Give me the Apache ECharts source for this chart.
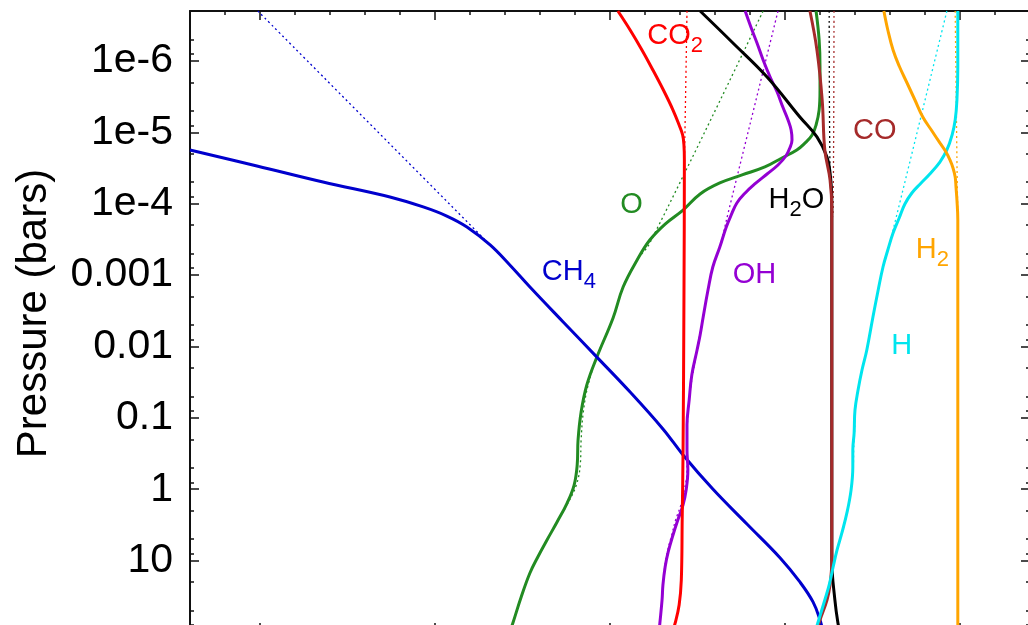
<!DOCTYPE html>
<html><head><meta charset="utf-8">
<script src="https://cdn.jsdelivr.net/npm/echarts@6/dist/echarts.min.js"></script>
<style>html,body{margin:0;padding:0;background:#fff}#c{width:1028px;height:625px}</style>
</head><body><div id="c"></div>
<script>
// ---------- data (x = log10 mole fraction, p = pressure in bars) ----------
const yTickValues = [1e-6, 1e-5, 1e-4, 1e-3, 1e-2, 1e-1, 1, 10];
const yTickLabels = ['1e-6', '1e-5', '1e-4', '0.001', '0.01', '0.1', '1', '10'];
const yMinorTicks = [5e-7, 8e-7, 2e-6, 5e-6, 8e-6, 2e-5, 5e-5, 8e-5, 2e-4, 5e-4, 8e-4, 2e-3, 5e-3, 8e-3,
  0.02, 0.05, 0.08, 0.2, 0.5, 0.8, 2, 5, 8, 20, 50, 80];
const xMajorTicks = [-16, -12, -8, -4, 0];
const xMinorTicks = [-16.8, -15.2, -14.4, -13.6, -12.8, -11.2, -10.4, -9.6, -8.8, -7.2, -6.4, -5.6, -4.8,
  -3.2, -2.4, -1.6, -0.8, 0.8];
const pressureRange = [2e-7, 100];
const xRange = [-17.6, 1.6];

const CH4 = [[-17.6,1.77e-5],[-16.07,2.96e-5],[-14.56,4.97e-5],[-13.03,8.05e-5],[-12.27,1.11e-4],[-11.73,1.49e-4],
  [-11.27,2.12e-4],[-10.74,3.79e-4],[-10.29,7.23e-4],[-9.83,1.47e-3],[-9.07,4.54e-3],[-8.3,1.41e-2],[-7.54,4.35e-2],
  [-6.79,0.143],[-6.33,0.331],[-5.65,0.993],[-4.87,3.07],[-4.11,9.18],[-3.66,19.9],[-3.36,37.9],[-3.2,67.9],[-3.13,100]];
const CH4_eq = [[-16.05,2e-7],[-10.74,3.79e-4],[-10.29,7.23e-4],[-9.83,1.47e-3],[-9.07,4.54e-3],[-8.3,1.41e-2],[-7.54,4.35e-2],
  [-6.79,0.143],[-6.33,0.331],[-5.65,0.993],[-4.87,3.07],[-4.11,9.18],[-3.66,19.9],[-3.36,37.9],[-3.2,67.9],[-3.13,100]];

const CO2 = [[-7.82,2e-7],[-7.54,3.69e-7],[-7.27,7.03e-7],[-7.02,1.34e-6],[-6.78,2.56e-6],[-6.56,4.88e-6],[-6.42,7.91e-6],
  [-6.34,1.09e-5],[-6.31,1.51e-5],[-6.30,2.44e-5],[-6.31,2.2e-3],[-6.33,0.28],[-6.35,2.7],[-6.37,18.7],
  [-6.42,41.9],[-6.51,74.8],[-6.58,100]];
const CO2_eq = [[-6.24,2e-7],[-6.29,1.3e-5],[-6.30,2.44e-5],[-6.31,2.2e-3],[-6.33,0.28],[-6.35,2.7],[-6.37,18.7],
  [-6.42,41.9],[-6.51,74.8],[-6.58,100]];

const H2O = [[-5.94,2e-7],[-5.19,5.61e-7],[-4.41,1.68e-6],[-3.66,6.11e-6],[-3.27,1.16e-5],[-3.04,2.22e-5],[-2.97,3.72e-5],
  [-2.93,8.87e-5],[-2.93,1e-2],[-2.93,1],[-2.93,9.8],[-2.86,35.6],[-2.79,74.8],[-2.74,100]];
const H2O_eq = [[-2.99,2e-7],[-2.97,4e-5],[-2.93,8.87e-5],[-2.93,1e-2],[-2.93,1],[-2.93,9.8],[-2.86,35.6],[-2.79,74.8],[-2.74,100]];

const CO = [[-3.43,2e-7],[-3.27,7.03e-7],[-3.15,3.53e-6],[-3.09,1.77e-5],[-2.97,4.66e-5],[-2.93,1.23e-4],[-2.93,1e-2],
  [-2.93,1],[-2.93,9.8],[-2.97,21.9],[-3.04,35.6],[-3.2,67.9],[-3.29,100]];
const CO_eq = [[-2.88,2e-7],[-2.9,1.2e-4],[-2.93,2e-4],[-2.93,1e-2],[-2.93,1],[-2.93,9.8],[-2.97,21.9],[-3.04,35.6],
  [-3.2,67.9],[-3.29,100]];

const OH = [[-4.91,2e-7],[-4.78,3.35e-7],[-4.64,5.61e-7],[-4.50,9.7e-7],[-4.34,1.68e-6],[-4.18,2.73e-6],[-4.05,4.43e-6],
  [-3.93,6.73e-6],[-3.86,9.29e-6],[-3.84,1.28e-5],[-3.89,1.66e-5],[-3.98,2.15e-5],[-4.16,2.87e-5],[-4.41,3.84e-5],
  [-4.69,5.3e-5],[-4.91,7.08e-5],[-5.10,9.77e-5],[-5.23,1.44e-4],[-5.35,2.19e-4],[-5.49,4.05e-4],[-5.65,7.71e-4],
  [-5.76,1.62e-3],[-5.87,3.86e-3],[-5.94,6.9e-3],[-6.01,1.12e-2],[-6.13,2.51e-2],[-6.19,5.62e-2],[-6.24,0.126],
  [-6.24,0.282],[-6.22,0.537],[-6.26,1.03],[-6.33,1.66],[-6.45,2.7],[-6.56,4.38],[-6.67,7.57],[-6.74,12.3],[-6.79,21.9],
  [-6.81,35.6],[-6.86,74.8],[-6.88,100]];
const OH_eq = [[-4.16,2e-7],[-5.30,1.35e-4],[-5.49,4.05e-4],[-5.65,7.71e-4],[-5.76,1.62e-3],[-5.87,3.86e-3],[-6.01,1.12e-2],
  [-6.19,5.62e-2],[-6.24,0.282],[-6.24,0.537],[-6.30,1.03],[-6.38,1.66],[-6.50,2.7],[-6.59,4.38],[-6.69,7.57],[-6.75,12.3],
  [-6.81,35.6],[-6.86,74.8],[-6.88,100]];

const O = [[-3.29,2e-7],[-3.22,5.09e-7],[-3.20,1.22e-6],[-3.20,2.56e-6],[-3.22,4.88e-6],[-3.29,7.91e-6],[-3.38,1.09e-5],
  [-3.54,1.41e-5],[-3.73,1.77e-5],[-4.07,2.29e-5],[-4.46,3.06e-5],[-4.98,3.96e-5],[-5.49,5.13e-5],[-5.94,7.31e-5],
  [-6.33,1.23e-4],[-6.74,1.93e-4],[-7.09,3.23e-4],[-7.38,6.15e-4],[-7.70,1.47e-3],[-7.93,3.99e-3],
  [-8.30,1.41e-2],[-8.53,3.47e-2],[-8.66,8.28e-2],[-8.73,0.204],[-8.75,0.457],[-8.82,0.873],[-8.98,1.56],
  [-9.21,2.88],[-9.44,5.14],[-9.65,8.89],[-9.83,14.9],[-10.03,32.3],[-10.22,74.8],[-10.29,100]];
const O_eq = [[-4.50,2e-7],[-7.09,3.56e-4],[-7.38,6.15e-4],[-7.70,1.47e-3],[-7.93,3.99e-3],[-8.30,1.41e-2],
  [-8.50,3.47e-2],[-8.61,8.28e-2],[-8.66,0.204],[-8.68,0.457],[-8.77,0.873],[-8.96,1.56],
  [-9.21,2.88],[-9.44,5.14],[-9.65,8.89],[-9.83,14.9],[-10.03,32.3],[-10.22,74.8],[-10.29,100]];

const H = [[-0.05,2e-7],[-0.05,1.22e-6],[-0.07,3.53e-6],[-0.11,6.73e-6],[-0.18,1.09e-5],[-0.30,1.77e-5],[-0.46,2.61e-5],
  [-0.69,3.84e-5],[-0.91,5.3e-5],[-1.10,7.08e-5],[-1.26,1.01e-4],[-1.39,1.59e-4],[-1.53,2.58e-4],[-1.65,4.46e-4],
  [-1.76,7.71e-4],[-1.87,1.62e-3],[-1.99,3.86e-3],[-2.13,1.12e-2],[-2.24,2.14e-2],[-2.33,4.07e-2],[-2.40,7.76e-2],
  [-2.42,0.163],[-2.45,0.282],[-2.45,0.488],[-2.49,1.03],[-2.58,2.08],[-2.70,4.1],[-2.81,7.1],[-2.90,12.3],[-2.99,21.9],
  [-3.09,35.6],[-3.25,74.8],[-3.31,100]];
const H_eq = [[-0.30,2e-7],[-1.53,2.34e-4],[-1.65,4.46e-4],[-1.76,7.71e-4],[-1.87,1.62e-3],[-1.99,3.86e-3],[-2.13,1.12e-2],
  [-2.24,2.14e-2],[-2.33,4.07e-2],[-2.39,7.76e-2],[-2.41,0.163],[-2.43,0.282],[-2.44,0.488],[-2.49,1.03],[-2.58,2.08],
  [-2.70,4.1],[-2.81,7.1],[-2.90,12.3],[-2.99,21.9],[-3.09,35.6],[-3.25,74.8],[-3.31,100]];

const H2 = [[-1.74,2e-7],[-1.65,3.69e-7],[-1.53,7.03e-7],[-1.39,1.18e-6],[-1.21,2.04e-6],[-1.03,3.53e-6],[-0.85,6.11e-6],
  [-0.64,9.6e-6],[-0.46,1.41e-5],[-0.32,1.89e-5],[-0.23,2.44e-5],[-0.16,3.16e-5],[-0.11,4.23e-5],[-0.09,6.03e-5],
  [-0.07,8.87e-5],[-0.05,1.69e-4],[-0.05,3.23e-4],[-0.05,1e-2],[-0.05,1],[-0.05,100]];
const H2_eq = [[-0.11,2e-7],[-0.07,2.44e-5],[-0.05,3.23e-4],[-0.05,1e-2],[-0.05,1],[-0.05,100]];

// ---------- chart ----------
const L = Math.log10;
const toXY = arr => arr.map(d => [d[0], L(d[1])]);
const FONT = 'Liberation Sans, Arial, Helvetica, sans-serif';

const species = [
  { name: 'O',   color: '#228B22', solid: O,   eq: O_eq,   label: 'O',          at: [-7.51, 1.04e-4] },
  { name: 'CH4', color: '#0000CD', solid: CH4, eq: CH4_eq, label: 'CH{s|4}',    at: [-8.94, 9.2e-4] },
  { name: 'OH',  color: '#9400D3', solid: OH,  eq: OH_eq,  label: 'OH',         at: [-4.70, 1.0e-3] },
  { name: 'CO2', color: '#FF0000', solid: CO2, eq: CO2_eq, label: 'CO{s|2}',    at: [-6.51, 4.5e-7] },
  { name: 'H2O', color: '#000000', solid: H2O, eq: H2O_eq, label: 'H{s|2}O',    at: [-3.74, 9.0e-5] },
  { name: 'CO',  color: '#A52A2A', solid: CO,  eq: CO_eq,  label: 'CO',         at: [-1.95, 9.6e-6] },
  { name: 'H',   color: '#00E5EE', solid: H,   eq: H_eq,   label: 'H',          at: [-1.33, 9.9e-3] },
  { name: 'H2',  color: '#FFA500', solid: H2,  eq: H2_eq,  label: 'H{s|2}',     at: [-0.63, 4.5e-4] }
];

const series = [];
species.forEach(s => {
  series.push({
    type: 'line', name: s.name + ' eq', data: toXY(s.eq), showSymbol: false, smooth: 0.4,
    lineStyle: { color: s.color, width: 1.3, type: [2, 3] }, z: 2, silent: true
  });
});
species.forEach(s => {
  series.push({
    type: 'line', name: s.name, data: toXY(s.solid), showSymbol: false, smooth: 0.4,
    lineStyle: { color: s.color, width: 3 }, z: 3, silent: true,
    markPoint: {
      symbol: 'circle', symbolSize: 0, animation: false,
      data: [{ coord: [s.at[0], L(s.at[1])] }],
      label: {
        show: true, position: 'inside', formatter: s.label, color: s.color,
        fontFamily: FONT, fontSize: 29, lineHeight: 30,
        rich: { s: { fontFamily: FONT, fontSize: 22, lineHeight: 22, padding: [19, 0, 0, 0], color: s.color } }
      }
    }
  });
});

const axisColor = '#111';
const noLine = { show: false, onZero: false };
const yCommon = { type: 'value', min: L(pressureRange[0]), max: L(pressureRange[1]), inverse: true,
  splitLine: { show: false }, axisLine: noLine, axisLabel: { show: false } };
const xCommon = { type: 'value', min: xRange[0], max: xRange[1],
  splitLine: { show: false }, axisLine: noLine, axisLabel: { show: false } };
const majorTick = vals => ({ show: true, inside: true, length: 9, lineStyle: { color: axisColor, width: 1.5 }, customValues: vals });
const minorTick = vals => ({ show: true, inside: true, length: 4, lineStyle: { color: axisColor, width: 1.5 }, customValues: vals });
const line = { show: true, onZero: false, lineStyle: { color: axisColor, width: 2 } };

const option = {
  animation: false,
  backgroundColor: '#fff',
  grid: { left: 190, right: -2, top: 11, bottom: -7, outerBoundsMode: 'none', containLabel: false },
  xAxis: [
    Object.assign({}, xCommon, { position: 'top', axisLine: line, axisTick: majorTick(xMajorTicks) }),
    Object.assign({}, xCommon, { position: 'top', axisTick: minorTick(xMinorTicks) }),
    Object.assign({}, xCommon, { position: 'bottom', axisLine: line, axisTick: majorTick(xMajorTicks) }),
    Object.assign({}, xCommon, { position: 'bottom', axisTick: minorTick(xMinorTicks) })
  ],
  yAxis: [
    Object.assign({}, yCommon, {
      position: 'left', axisLine: line, axisTick: majorTick(yTickValues.map(L)),
      axisLabel: {
        show: true, customValues: yTickValues.map(L), margin: 17,
        fontFamily: FONT, fontSize: 41, color: '#000',
        formatter: v => { const i = yTickValues.findIndex(t => Math.abs(L(t) - v) < 1e-6); return i >= 0 ? yTickLabels[i] : ''; }
      },
      name: 'Pressure (bars)', nameLocation: 'middle', nameRotate: 90, nameGap: 135,
      nameTextStyle: { fontFamily: FONT, fontSize: 42, color: '#000', padding: [0, 0, 0, 16] }
    }),
    Object.assign({}, yCommon, { position: 'left', axisTick: minorTick(yMinorTicks.map(L)) }),
    Object.assign({}, yCommon, { position: 'right', axisLine: line, axisTick: majorTick(yTickValues.map(L)) }),
    Object.assign({}, yCommon, { position: 'right', axisTick: minorTick(yMinorTicks.map(L)) })
  ],
  series: series
};

const chart = echarts.init(document.getElementById('c'), null, { renderer: 'canvas' });
chart.setOption(option);
</script>
</body></html>
